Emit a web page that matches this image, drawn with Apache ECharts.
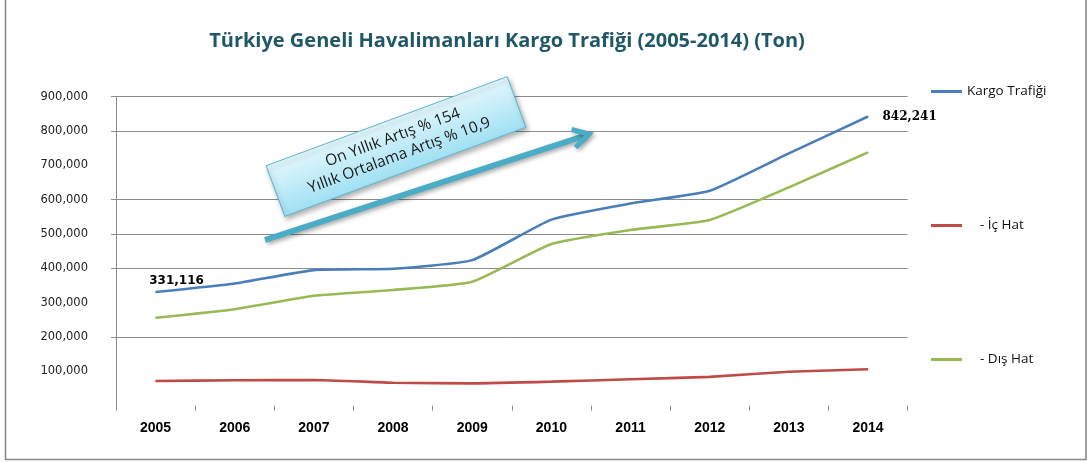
<!DOCTYPE html>
<html>
<head>
<meta charset="utf-8">
<title>Kargo Trafiği</title>
<script src="https://cdn.jsdelivr.net/npm/echarts@6.0.0/dist/echarts.min.js"></script>
<style>
html,body{margin:0;padding:0;background:#fff;}
#lineContainer{width:1091px;height:463px;}
</style>
</head>
<body>
<div id="lineContainer"></div>
<script>
// yıllar ve ton değerleri
var years = ['2005','2006','2007','2008','2009','2010','2011','2012','2013','2014'];
var kargoTrafigi = [331116, 356000, 395000, 399000, 424000, 542000, 589000, 626000, 735000, 842241];
var icHat = [72000, 74000, 75000, 67000, 65000, 70000, 77000, 84000, 99000, 106000];
var disHat = [256000, 281000, 320000, 337000, 361000, 471000, 512000, 541000, 636000, 738000];
var seriesNames = ['Kargo Trafiği', '- İç Hat', '- Dış Hat'];
var seriesColors = ['#4a7ebb', '#be4b48', '#98b954'];

// the picture only shows these grid lines / ticks
var gridValues = [200000, 400000, 500000, 600000, 800000, 900000];

function fmt(v){
	return v.toLocaleString('en-US');
}

window.onload=function(){
	var myLineChart = echarts.init(document.getElementById('lineContainer'));

	// first and last point of the total get a value label
	var kargoData = kargoTrafigi.map(function(v, i){
		if(i == 0){
			return {value: v, label: {show: true, position: 'top', distance: 5, offset: [21, 0],
				formatter: function(p){ return fmt(p.value); },
				color: '#000', fontFamily: 'DejaVu Sans', fontWeight: 'bold', fontSize: 12}};
		}
		if(i == kargoTrafigi.length - 1){
			return {value: v, label: {show: true, position: 'right', distance: 14,
				formatter: function(p){ return fmt(p.value); },
				color: '#000', fontFamily: 'DejaVu Serif', fontWeight: 'bold', fontSize: 12}};
		}
		return v;
	});

	function lineSeries(name, data, color, z){
		return {
			name: name,
			type: 'line',
			data: data,
			smooth: 0.15,
			symbol: 'circle',
			symbolSize: 1,
			showSymbol: true,
			z: z,
			lineStyle: {color: color, width: 2.6},
			itemStyle: {color: color}
		};
	}

	var series = [
		lineSeries(seriesNames[0], kargoData, seriesColors[0], 3),
		lineSeries(seriesNames[1], icHat, seriesColors[1], 2),
		lineSeries(seriesNames[2], disHat, seriesColors[2], 2)
	];
	// grid lines
	series[1].markLine = {
		silent: true,
		symbol: 'none',
		z: 0,
		label: {show: false},
		lineStyle: {color: '#8c8c8c', width: 1, type: 'solid'},
		data: gridValues.map(function(v){ return {yAxis: v}; })
	};

	option = {
		backgroundColor: '#fff',
		animation: false,
		grid: {left: 116, right: 183.4, top: 96.7, bottom: 57.3},
		legend: {
			orient: 'vertical',
			left: 931,
			top: 83,
			padding: 0,
			icon: 'rect',
			itemWidth: 31,
			itemHeight: 3,
			itemGap: 117,
			data: seriesNames,
			formatter: function(name){
				return name.charAt(0) == '-' ? '{g|}' + name : name;
			},
			textStyle: {
				fontFamily: 'Open Sans', fontSize: 13.5, color: '#111', lineHeight: 17,
				rich: {g: {width: 13}}
			}
		},
		xAxis: {
			type: 'category',
			data: years,
			boundaryGap: true,
			axisLine: {show: false},
			axisTick: {show: true, length: 5, lineStyle: {color: '#8c8c8c'}},
			axisLabel: {margin: 15, color: '#000', fontFamily: 'Liberation Sans', fontWeight: 'bold', fontSize: 14}
		},
		yAxis: {
			type: 'value',
			min: 0,
			max: 900000,
			interval: 100000,
			axisLine: {show: true, lineStyle: {color: '#8c8c8c'}},
			axisTick: {show: true, length: 5, customValues: gridValues, lineStyle: {color: '#8c8c8c'}},
			axisLabel: {
				margin: 28, color: '#222', fontFamily: 'DejaVu Sans', fontSize: 11.5,
				formatter: function(v){ return v == 0 ? '' : fmt(v); }
			},
			splitLine: {show: false}
		},
		series: series,
		graphic: [
			// çerçeve
			{type: 'polyline', silent: true, z: 1,
				shape: {points: [[5.5, -3], [5.5, 459.5], [1086, 459.5], [1086, -3]]},
				style: {stroke: '#8a8a8a', lineWidth: 1.6, fill: null}},
			// başlık
			{type: 'text', x: 507, y: 41, z: 10,
				style: {text: 'Türkiye Geneli Havalimanları Kargo Trafiği (2005-2014) (Ton)',
					font: 'bold 20px "Open Sans"', fill: '#215868', textAlign: 'center', textVerticalAlign: 'middle'}},
			// ok
			{type: 'polyline', z: 20,
				shape: {points: [[265, 240], [584, 136]]},
				style: {stroke: '#4bacc6', lineWidth: 6, fill: null,
					shadowBlur: 4, shadowColor: 'rgba(0,0,0,0.35)', shadowOffsetX: 2, shadowOffsetY: 2}},
			{type: 'polyline', z: 20,
				shape: {points: [[571.5, 129.5], [589, 134], [575.5, 147.5]]},
				style: {stroke: '#4bacc6', lineWidth: 5, fill: null, lineJoin: 'miter',
					shadowBlur: 4, shadowColor: 'rgba(0,0,0,0.35)', shadowOffsetX: 2, shadowOffsetY: 2}},
			// açıklama kutusu
			{type: 'group', x: 396, y: 146.5, rotation: 0.354, z: 30, children: [
				{type: 'rect', z: 30,
					shape: {x: -128.5, y: -27, width: 257, height: 54},
					style: {
						fill: new echarts.graphic.LinearGradient(0, 0, 0, 1, [
							{offset: 0, color: '#e4f7fd'},
							{offset: 1, color: '#9fe0f3'}
						]),
						stroke: '#5db7cf', lineWidth: 1,
						shadowBlur: 5, shadowColor: 'rgba(0,0,0,0.3)', shadowOffsetX: 2, shadowOffsetY: 3
					}},
				{type: 'text', x: 0, y: 0, z: 31,
					style: {text: 'On Yıllık Artış % 154\nYıllık Ortalama Artış % 10,9',
						font: '15.5px "Open Sans"', fill: '#1a1a1a', lineHeight: 19,
						textAlign: 'center', textVerticalAlign: 'middle'}}
			]}
		]
	};

	myLineChart.setOption(option);
}
</script>
</body>
</html>
